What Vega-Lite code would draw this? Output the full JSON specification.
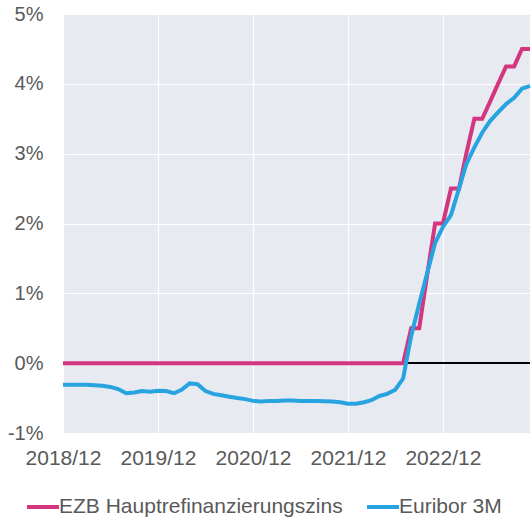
{
  "$schema": "https://vega.github.io/schema/vega-lite/v6.json",
  "width": 467,
  "height": 419,
  "autosize": {"type": "none"},
  "padding": {"left": 63, "top": 14, "right": 1, "bottom": 85},
  "background": "white",
  "config": {
    "font": "Liberation Sans",
    "view": {"fill": "#E8EAF2", "stroke": null},
    "axis": {"labelFont": "Liberation Sans", "labelColor": "#595959", "labelFontSize": 20, "domain": false, "ticks": false, "gridColor": "#FFFFFF", "gridWidth": 1.2, "gridOpacity": 1, "title": null}
  },
  "datasets": {
    "rates": [
      {"date": "2018/12/01", "ezb": 0, "euribor": -0.31},
      {"date": "2019/01/01", "ezb": 0, "euribor": -0.31},
      {"date": "2019/02/01", "ezb": 0, "euribor": -0.31},
      {"date": "2019/03/01", "ezb": 0, "euribor": -0.31},
      {"date": "2019/04/01", "ezb": 0, "euribor": -0.315},
      {"date": "2019/05/01", "ezb": 0, "euribor": -0.325},
      {"date": "2019/06/01", "ezb": 0, "euribor": -0.34},
      {"date": "2019/07/01", "ezb": 0, "euribor": -0.37},
      {"date": "2019/08/01", "ezb": 0, "euribor": -0.43},
      {"date": "2019/09/01", "ezb": 0, "euribor": -0.42},
      {"date": "2019/10/01", "ezb": 0, "euribor": -0.40},
      {"date": "2019/11/01", "ezb": 0, "euribor": -0.41},
      {"date": "2019/12/01", "ezb": 0, "euribor": -0.395},
      {"date": "2020/01/01", "ezb": 0, "euribor": -0.40},
      {"date": "2020/02/01", "ezb": 0, "euribor": -0.43},
      {"date": "2020/03/01", "ezb": 0, "euribor": -0.38},
      {"date": "2020/04/01", "ezb": 0, "euribor": -0.29},
      {"date": "2020/05/01", "ezb": 0, "euribor": -0.30},
      {"date": "2020/06/01", "ezb": 0, "euribor": -0.40},
      {"date": "2020/07/01", "ezb": 0, "euribor": -0.44},
      {"date": "2020/08/01", "ezb": 0, "euribor": -0.46},
      {"date": "2020/09/01", "ezb": 0, "euribor": -0.48},
      {"date": "2020/10/01", "ezb": 0, "euribor": -0.50},
      {"date": "2020/11/01", "ezb": 0, "euribor": -0.515},
      {"date": "2020/12/01", "ezb": 0, "euribor": -0.54},
      {"date": "2021/01/01", "ezb": 0, "euribor": -0.55},
      {"date": "2021/02/01", "ezb": 0, "euribor": -0.54},
      {"date": "2021/03/01", "ezb": 0, "euribor": -0.54},
      {"date": "2021/04/01", "ezb": 0, "euribor": -0.535},
      {"date": "2021/05/01", "ezb": 0, "euribor": -0.535},
      {"date": "2021/06/01", "ezb": 0, "euribor": -0.54},
      {"date": "2021/07/01", "ezb": 0, "euribor": -0.54},
      {"date": "2021/08/01", "ezb": 0, "euribor": -0.54},
      {"date": "2021/09/01", "ezb": 0, "euribor": -0.545},
      {"date": "2021/10/01", "ezb": 0, "euribor": -0.55},
      {"date": "2021/11/01", "ezb": 0, "euribor": -0.56},
      {"date": "2021/12/01", "ezb": 0, "euribor": -0.58},
      {"date": "2022/01/01", "ezb": 0, "euribor": -0.58},
      {"date": "2022/02/01", "ezb": 0, "euribor": -0.56},
      {"date": "2022/03/01", "ezb": 0, "euribor": -0.53},
      {"date": "2022/04/01", "ezb": 0, "euribor": -0.47},
      {"date": "2022/05/01", "ezb": 0, "euribor": -0.44},
      {"date": "2022/06/01", "ezb": 0, "euribor": -0.38},
      {"date": "2022/07/01", "ezb": 0, "euribor": -0.22},
      {"date": "2022/08/01", "ezb": 0.5, "euribor": 0.39},
      {"date": "2022/09/01", "ezb": 0.5, "euribor": 0.85},
      {"date": "2022/10/01", "ezb": 1.25, "euribor": 1.28},
      {"date": "2022/11/01", "ezb": 2.0, "euribor": 1.72},
      {"date": "2022/12/01", "ezb": 2.0, "euribor": 1.95},
      {"date": "2023/01/01", "ezb": 2.5, "euribor": 2.12},
      {"date": "2023/02/01", "ezb": 2.5, "euribor": 2.5},
      {"date": "2023/03/01", "ezb": 3.0, "euribor": 2.85},
      {"date": "2023/04/01", "ezb": 3.5, "euribor": 3.09},
      {"date": "2023/05/01", "ezb": 3.5, "euribor": 3.3},
      {"date": "2023/06/01", "ezb": 3.75, "euribor": 3.47},
      {"date": "2023/07/01", "ezb": 4.0, "euribor": 3.59},
      {"date": "2023/08/01", "ezb": 4.25, "euribor": 3.71},
      {"date": "2023/09/01", "ezb": 4.25, "euribor": 3.80},
      {"date": "2023/10/01", "ezb": 4.5, "euribor": 3.93},
      {"date": "2023/11/01", "ezb": 4.5, "euribor": 3.97}
    ]
  },
  "data": {"name": "rates"},
  "transform": [
    {"fold": ["ezb", "euribor"], "as": ["key", "value"]},
    {"calculate": "datum.key === 'ezb' ? 'EZB Hauptrefinanzierungszins' : 'Euribor 3M'", "as": "series"}
  ],
  "encoding": {
    "x": {
      "field": "date", "type": "temporal",
      "scale": {"domain": [{"year": 2018, "month": 12, "date": 1}, {"year": 2023, "month": 11, "date": 1}]},
      "axis": {
        "values": [{"year": 2018, "month": 12, "date": 1}, {"year": 2019, "month": 12, "date": 1}, {"year": 2020, "month": 12, "date": 1}, {"year": 2021, "month": 12, "date": 1}, {"year": 2022, "month": 12, "date": 1}],
        "format": "%Y/%m", "labelPadding": 14, "labelFontSize": 21, "labelFlush": false, "labelOverlap": false
      }
    },
    "y": {
      "field": "value", "type": "quantitative",
      "scale": {"domain": [-1, 5], "nice": false, "zero": false},
      "axis": {"values": [-1, 0, 1, 2, 3, 4, 5], "labelExpr": "datum.value + '%'", "labelPadding": 20, "labelFlush": false}
    }
  },
  "layer": [
    {
      "mark": {"type": "rule", "color": "#000000", "strokeWidth": 1.5},
      "encoding": {"y": {"datum": 0}, "x": {"value": 0}, "x2": {"value": 467}, "color": {"value": "#000000"}}
    },
    {
      "transform": [{"filter": "datum.key === 'ezb'"}],
      "mark": {"type": "line", "strokeWidth": 4},
      "encoding": {
        "color": {
          "field": "series", "type": "nominal",
          "scale": {"domain": ["EZB Hauptrefinanzierungszins", "Euribor 3M"], "range": ["#D3357F", "#27A3E0"]},
          "legend": {
            "title": null, "orient": "none", "direction": "horizontal",
            "legendX": -38, "legendY": 475,
            "symbolType": "stroke", "symbolSize": 1024, "symbolStrokeWidth": 4,
            "labelFontSize": 21, "labelColor": "#595959", "labelFont": "Liberation Sans",
            "labelOffset": -2, "columnPadding": 16, "labelLimit": 400
          }
        }
      }
    },
    {
      "transform": [{"filter": "datum.key === 'euribor'"}],
      "mark": {"type": "line", "strokeWidth": 4},
      "encoding": {"color": {"field": "series", "type": "nominal"}}
    }
  ]
}
